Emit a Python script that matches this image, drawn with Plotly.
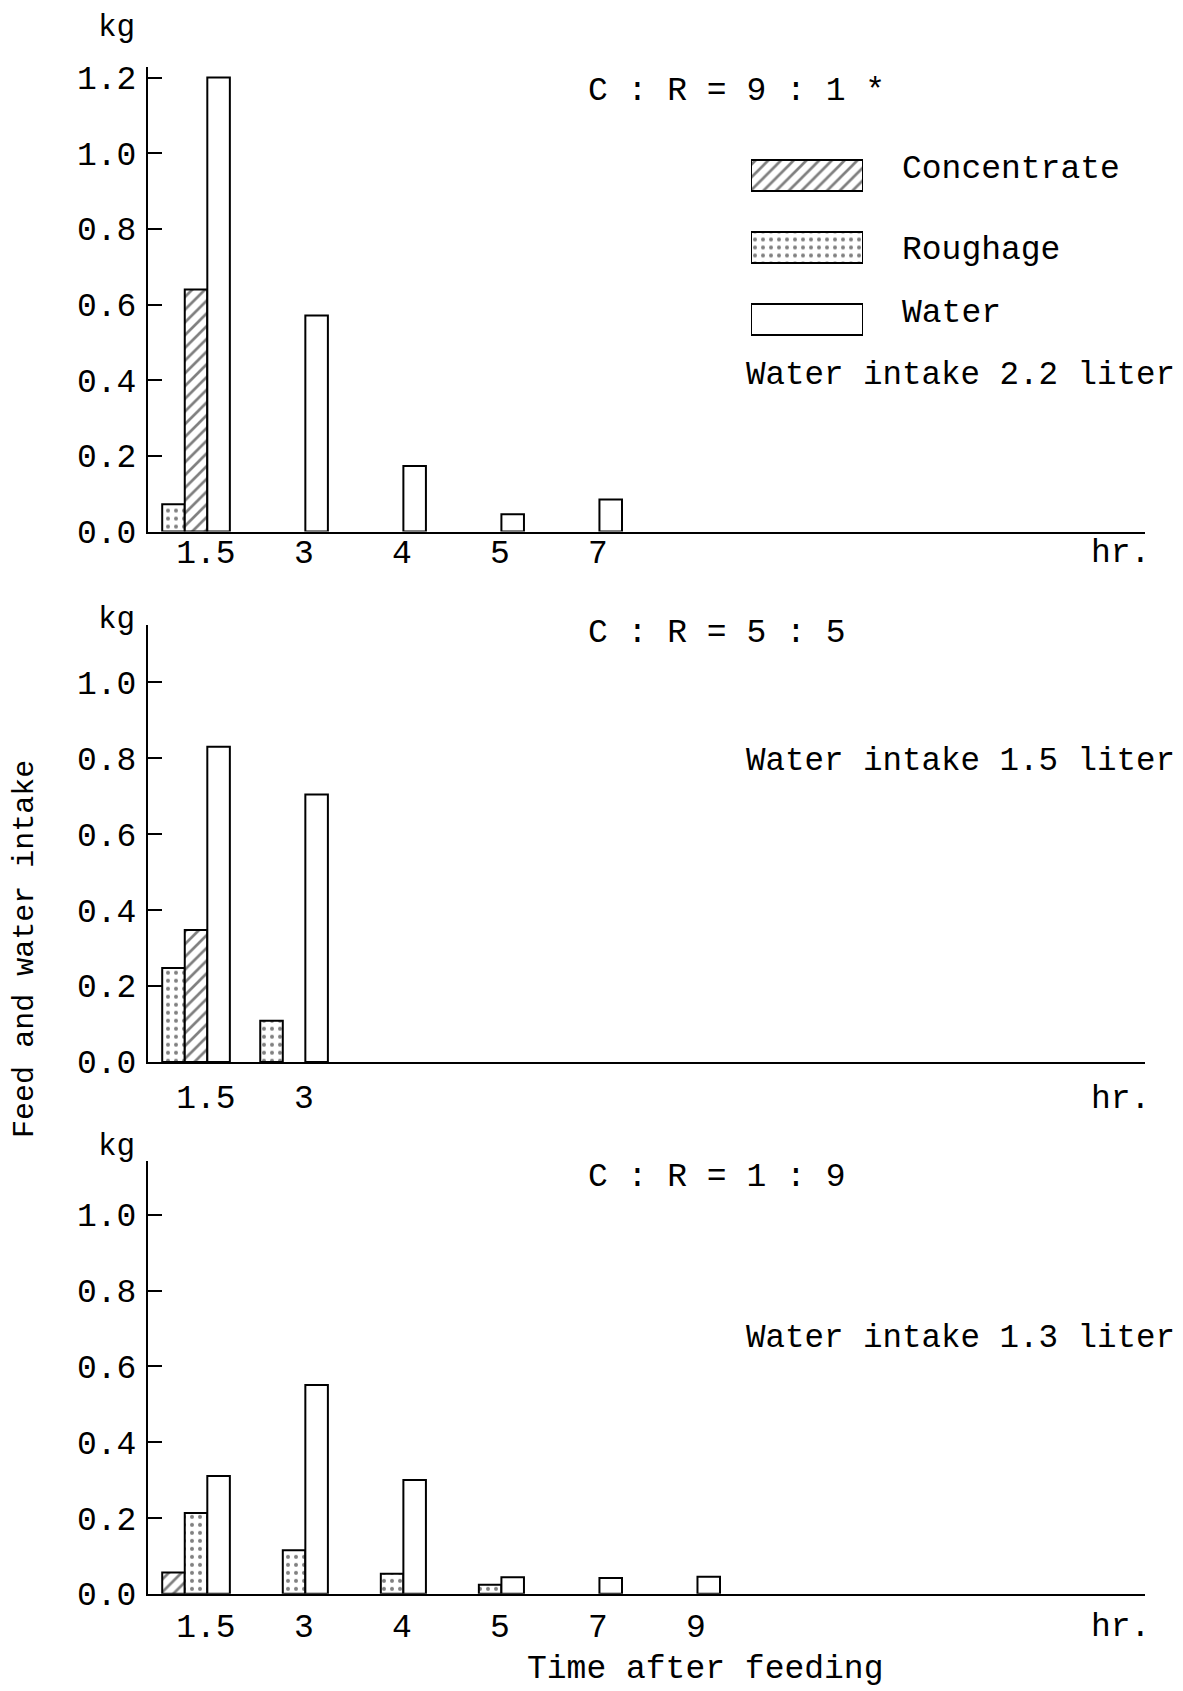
import plotly.graph_objects as go

# ---- data ----
times_p1 = ["1.5", "3", "4", "5", "7"]
conc_p1 = [0.64, 0, 0, 0, 0]
rough_p1 = [0.072, 0, 0, 0, 0]
water_p1 = [1.20, 0.571, 0.173, 0.046, 0.085]

times_p2 = ["1.5", "3"]
conc_p2 = [0.347, 0]
rough_p2 = [0.247, 0.108]
water_p2 = [0.830, 0.704]

times_p3 = ["1.5", "3", "4", "5", "7", "9"]
conc_p3 = [0.056, 0, 0, 0, 0, 0]
rough_p3 = [0.213, 0.115, 0.053, 0.024, 0, 0]
water_p3 = [0.311, 0.551, 0.300, 0.044, 0.042, 0.045]

panel_titles = ["C : R = 9 : 1 *", "C : R = 5 : 5", "C : R = 1 : 9"]
water_notes = ["Water intake 2.2 liter", "Water intake 1.5 liter", "Water intake 1.3 liter"]
legend_names = ["Concentrate", "Roughage", "Water"]

# ---- geometry helpers (target page pixels -> figure) ----
OX = 8
W, H = 1175, 1720
AX_L, AX_R = 148, 1145
ML = AX_L - OX
MR = W - (AX_R - OX)
PW = W - ML - MR
FONT = "Liberation Mono, Courier New, monospace"
FS = 33

def fy(y):
    # page y -> figure y (empirical vertical mapping of the viewer)
    return (y - 12) / 0.985

def px(x, y):
    return (x - OX - ML) / PW, 1 - fy(y) / H

def ydom(top, bottom):
    return [1 - fy(bottom) / H, 1 - fy(top) / H]

styles = {
    "Concentrate": dict(pattern=dict(shape="/", fgcolor="black", bgcolor="white", size=9, solidity=0.3)),
    "Roughage": dict(pattern=dict(shape=".", fgcolor="black", bgcolor="white", size=8, solidity=0.2)),
    "Water": dict(),
}

fig = go.Figure()
W_BAR = 0.23

panels = [
    (times_p1, [("Roughage", rough_p1), ("Concentrate", conc_p1), ("Water", water_p1)], (66.6, 531.6), 1.229, -10),
    (times_p2, [("Roughage", rough_p2), ("Concentrate", conc_p2), ("Water", water_p2)], (624.8, 1062), 1.151, 5),
    (times_p3, [("Concentrate", conc_p3), ("Roughage", rough_p3), ("Water", water_p3)], (1161, 1594), 1.142, 2),
]

offsets = [-0.445, -0.215, 0.015]
for pi, (times, series, (top, bot), ymax, standoff) in enumerate(panels):
    xa = "x" if pi == 0 else f"x{pi+1}"
    ya = "y" if pi == 0 else f"y{pi+1}"
    idx = list(range(len(times)))
    for si, (name, vals) in enumerate(series):
        xs = [i for i, v in zip(idx, vals) if v > 0]
        ys = [v for v in vals if v > 0]
        fig.add_trace(go.Bar(
            x=xs, y=ys, xaxis=xa, yaxis=ya, name=name, showlegend=False,
            width=W_BAR, offset=offsets[si],
            marker=dict(color="white", line=dict(color="black", width=2), **styles[name]),
        ))
    xkey = "xaxis" if pi == 0 else f"xaxis{pi+1}"
    ykey = "yaxis" if pi == 0 else f"yaxis{pi+1}"
    top_tick = 1.2 if pi == 0 else 1.0
    tv = [round(0.2 * k, 1) for k in range(int(round(top_tick / 0.2)) + 1)]
    fig.update_layout({
        xkey: dict(domain=[0, 1], anchor=ya, range=[-0.59, 9.58], showline=True, linecolor="black",
                   linewidth=2, showgrid=False, zeroline=False, ticks="",
                   tickvals=idx, ticktext=times, ticklabelstandoff=standoff,
                   tickfont=dict(family=FONT, size=FS, color="black")),
        ykey: dict(domain=ydom(top, bot), anchor=xa, range=[0, ymax], showline=True, linecolor="black",
                   linewidth=2, showgrid=False, zeroline=False, ticks="inside", ticklen=14, tickwidth=2,
                   tickcolor="black", tickvals=tv, tickformat=".1f", ticklabelstandoff=3,
                   tickfont=dict(family=FONT, size=FS, color="black")),
    })

# legend swatches drawn in a small auxiliary axis
slots = [0, 1, 2]
for s, name in zip(slots, legend_names):
    fig.add_trace(go.Bar(
        x=[1], y=[s], orientation="h", xaxis="x4", yaxis="y4", showlegend=False, width=0.43,
        marker=dict(color="white", line=dict(color="black", width=2), **styles[name]),
    ))
fig.update_layout(
    xaxis4=dict(domain=[px(751, 0)[0], px(863, 0)[0]], anchor="y4", range=[0, 1], visible=False),
    yaxis4=dict(domain=ydom(139.5, 355.5), anchor="x4", range=[2.5, -0.5], visible=False),
)

ann = []
def text(x, y, t, xanchor="left", size=FS, angle=0):
    ax, ay = px(x, y)
    ann.append(dict(x=ax, y=ay, xref="paper", yref="paper", text=t, showarrow=False,
                    xanchor=xanchor, yanchor="middle", textangle=angle,
                    font=dict(family=FONT, size=size, color="black")))

for name, y in zip(legend_names, (170, 251, 314)):
    text(900, y, name)

kg_y = [28, 620, 1147]
title_y = [92, 634, 1178]
note_y = [376, 762, 1339]
hr_y = [554, 1100, 1628]
for i in range(3):
    text(116, kg_y[i], "kg", xanchor="center", size=31)
    text(586, title_y[i], panel_titles[i])
    text(744, note_y[i], water_notes[i], size=32.5)
    text(1152, hr_y[i], "hr.", xanchor="right")

text(25, 949, "Feed and water intake", xanchor="center", angle=-90, size=30)
text(705, 1670, "Time after feeding", xanchor="center")

fig.update_layout(
    annotations=ann, width=W, height=H, margin=dict(l=ML, r=MR, t=0, b=0),
    paper_bgcolor="white", plot_bgcolor="white", barmode="overlay", showlegend=False,
)
fig.write_html("out.html")
